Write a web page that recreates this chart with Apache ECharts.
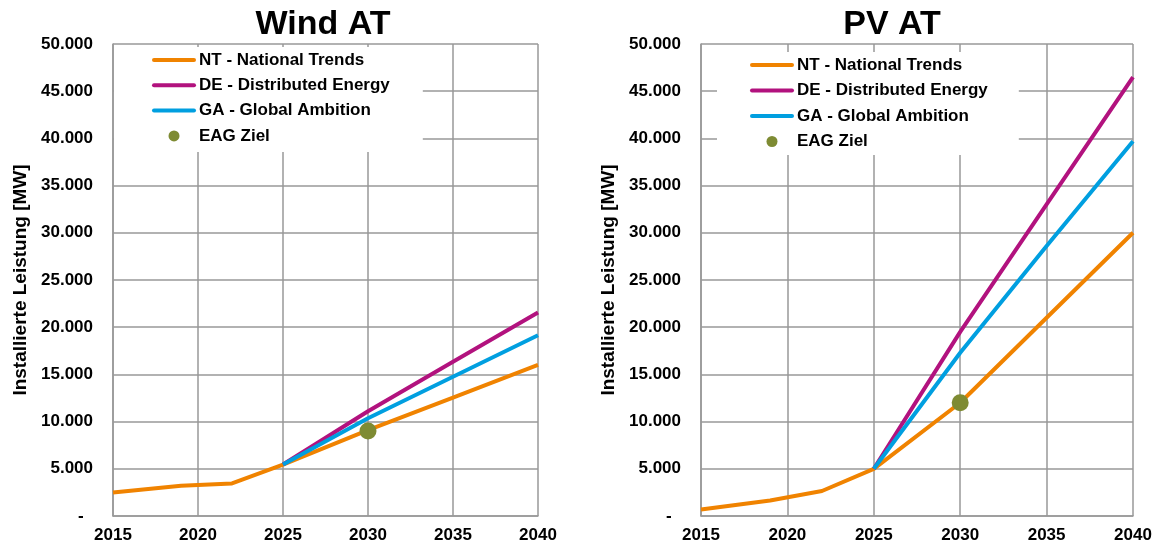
<!DOCTYPE html>
<html lang="de">
<head>
    <meta charset="UTF-8">
    <title>Wind AT / PV AT</title>
    <script type="text/javascript" src="https://cdn.jsdelivr.net/npm/echarts@6/dist/echarts.min.js"></script>
    <style>
        html, body { margin: 0; padding: 0; background: #fff; }
    </style>
</head>
<body>
<div id="main" style="width: 1160px;height:547px;"></div>
<script type="text/javascript">
    // Jahre
    var yearsNT = [2015, 2019, 2022, 2025, 2030, 2035, 2040];
    var yearsScen = [2025, 2030, 2035, 2040];
    var yearEAG = 2030;

    // Wind AT [MW]
    var windNT = [2500, 3200, 3450, 5450, 9100, 12550, 16000];
    var windDE = [5450, 11100, 16350, 21550];
    var windGA = [5450, 10350, 14750, 19150];
    var windEAG = 9000;

    // PV AT [MW]
    var pvNT = [700, 1650, 2650, 5000, 12000, 21000, 30000];
    var pvDE = [5000, 19500, 33000, 46500];
    var pvGA = [5000, 17300, 28600, 39700];
    var pvEAG = 12000;

    var titles = ['Wind AT', 'PV AT'];
    var names = ['NT - National Trends', 'DE - Distributed Energy', 'GA - Global Ambition', 'EAG Ziel'];
    var yTicks = [0, 50000, 5000];
    var xTicks = [2015, 2040, 5];

    var colors = ['#F08300', '#B2127E', '#009FE0', '#7E8B33'];
    var gridColor = '#999999';
    var font = 'Arial, "Liberation Sans", sans-serif';

    var myChart = echarts.init(document.getElementById('main'));

    function pairs(xs, ys) {
        var out = [];
        for (var i = 0; i < xs.length; i++) {
            out.push([xs[i], ys[i]]);
        }
        return out;
    }

    function xAxisFor(idx) {
        return {
            type: 'value',
            gridIndex: idx,
            min: xTicks[0], max: xTicks[1], interval: xTicks[2],
            axisLine: {show: true, lineStyle: {color: gridColor, width: 1.5}},
            axisTick: {show: false},
            axisLabel: {
                color: '#000', fontWeight: 'bold', fontSize: 17, fontFamily: font, margin: 11,
                formatter: function (v) { return String(v); }
            },
            splitLine: {show: true, lineStyle: {color: gridColor, width: 1.5}}
        };
    }

    function yAxisFor(idx) {
        return {
            type: 'value',
            gridIndex: idx,
            min: yTicks[0], max: yTicks[1], interval: yTicks[2],
            name: 'Installierte Leistung [MW]',
            nameLocation: 'middle',
            nameGap: 83,
            nameTextStyle: {color: '#000', fontWeight: 'bold', fontSize: 19, fontFamily: font},
            axisLine: {show: true, lineStyle: {color: gridColor, width: 1.5}},
            axisTick: {show: false},
            axisLabel: {
                color: '#000', fontWeight: 'bold', fontSize: 17, fontFamily: font, margin: 20,
                formatter: function (v) {
                    if (v === 0) return '-  ';
                    return (v / 1000).toFixed(3);
                }
            },
            splitLine: {show: true, lineStyle: {color: gridColor, width: 1.5}}
        };
    }

    function legendFor(left, top, padding, gap) {
        return {
            orient: 'vertical',
            left: left,
            top: top,
            padding: padding,
            itemGap: gap,
            itemWidth: 40,
            itemHeight: 11,
            itemTextGap: 3,
            backgroundColor: '#fff',
            textStyle: {color: '#000', fontWeight: 'bold', fontSize: 17, fontFamily: font, lineHeight: 17},
            data: [
                {name: names[0], itemStyle: {opacity: 0}, lineStyle: {width: 4, color: colors[0], cap: 'round'}},
                {name: names[1], itemStyle: {opacity: 0}, lineStyle: {width: 4, color: colors[1], cap: 'round'}},
                {name: names[2], itemStyle: {opacity: 0}, lineStyle: {width: 4, color: colors[2], cap: 'round'}},
                {name: names[3], itemStyle: {color: colors[3], opacity: 1}}
            ]
        };
    }

    function seriesFor(idx, nt, de, ga, eag) {
        var lines = [[yearsNT, nt], [yearsScen, de], [yearsScen, ga]];
        var out = [];
        for (var i = 0; i < lines.length; i++) {
            out.push({
                name: names[i],
                type: 'line',
                xAxisIndex: idx, yAxisIndex: idx,
                symbol: 'none',
                color: colors[i],
                lineStyle: {color: colors[i], width: 4},
                z: 3 + i,
                data: pairs(lines[i][0], lines[i][1])
            });
        }
        out.push({
            name: names[3],
            type: 'scatter',
            xAxisIndex: idx, yAxisIndex: idx,
            symbol: 'circle',
            symbolSize: 17,
            itemStyle: {color: colors[3], opacity: 1},
            z: 10,
            data: [[yearEAG, eag]]
        });
        return out;
    }

    var option = {
        animation: false,
        title: [
            {text: titles[0], left: 318, top: 3, textAlign: 'center',
             textStyle: {color: '#000', fontWeight: 'bold', fontSize: 34, fontFamily: font}},
            {text: titles[1], left: 887, top: 3, textAlign: 'center',
             textStyle: {color: '#000', fontWeight: 'bold', fontSize: 34, fontFamily: font}}
        ],
        legend: [
            legendFor(114, 47, [4.5, 33, 7.5, 38], 8.3),
            legendFor(717, 52, [4.5, 31, 5, 33], 8.5)
        ],
        grid: [
            {left: 113, right: 622, top: 44, bottom: 31},
            {left: 701, right: 27, top: 44, bottom: 31}
        ],
        xAxis: [xAxisFor(0), xAxisFor(1)],
        yAxis: [yAxisFor(0), yAxisFor(1)],
        series: seriesFor(0, windNT, windDE, windGA, windEAG)
            .concat(seriesFor(1, pvNT, pvDE, pvGA, pvEAG))
    };

    myChart.setOption(option);
</script>
</body>
</html>
